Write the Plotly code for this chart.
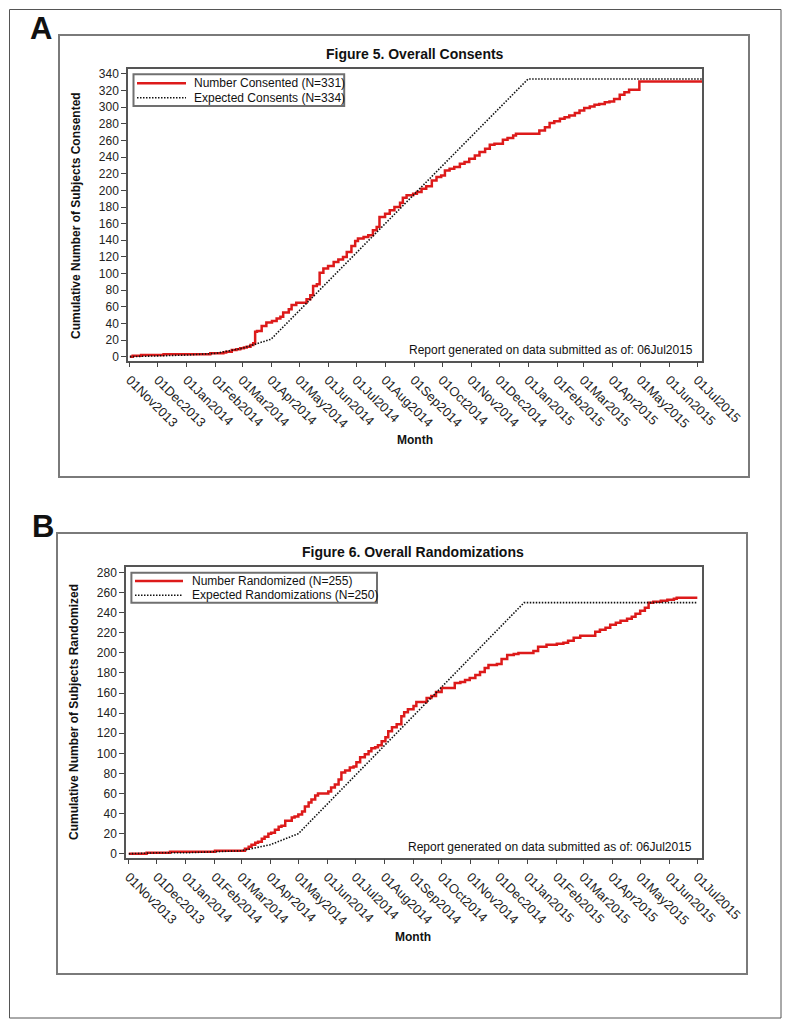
import pandas as pd
import plotly.graph_objects as go

# page is 791x1028; browser body keeps its default 8px margin, so the figure is
# sized to fill the window exactly and page coordinates are offset by 8px.
PAGE_W, PAGE_H = 791, 1028
OX, OY = 8, 8
FW, FH = PAGE_W - 2 * OX, PAGE_H - 2 * OY
BASE = pd.Timestamp("2013-11-01")
FONT = "Liberation Sans, Arial, sans-serif"

# ---------------- data (day offsets from 01Nov2013, cumulative counts) -------------
consent_days = [0, 3, 12, 36, 86, 100, 103, 109, 114, 118, 122, 125, 129, 132, 134,
                136, 141, 146, 152, 157, 161, 164, 170, 173, 178, 189, 193, 196, 200,
                203, 207, 212, 218, 223, 228, 232, 237, 241, 244, 250, 255, 260, 264,
                267, 273, 278, 283, 289, 292, 296, 303, 307, 312, 317, 323, 328, 333,
                337, 342, 347, 353, 358, 363, 369, 374, 380, 385, 390, 399, 404, 410,
                413, 438, 444, 449, 454, 460, 465, 470, 476, 481, 486, 492, 497, 502,
                508, 513, 518, 524, 529, 534, 545, 612]
consent_counts = [0, 1, 2, 3, 4, 5, 6, 8, 9, 10, 11, 12, 14, 16, 30,
                  31, 37, 41, 43, 46, 48, 53, 57, 62, 65, 69, 74, 85, 87,
                  101, 106, 109, 114, 117, 120, 126, 133, 139, 142, 144, 146, 152, 156,
                  168, 172, 176, 180, 185, 191, 194, 196, 198, 202, 205, 212, 216, 218,
                  224, 226, 228, 232, 234, 238, 242, 246, 250, 255, 256, 261, 263, 266,
                  268, 272, 276, 281, 283, 286, 288, 290, 293, 296, 299, 301, 303, 304,
                  306, 307, 310, 315, 318, 321, 331, 331]

exp_consent_days = [0, 30, 61, 92, 120, 151, 426, 612]
exp_consent_counts = [0, 1, 2, 4, 10, 21, 334, 334]

rand_days = [0, 19, 44, 92, 124, 128, 131, 135, 138, 142, 145, 149, 152, 156, 160,
             163, 167, 174, 177, 181, 185, 188, 192, 195, 199, 202, 213, 216, 220,
             224, 227, 231, 236, 240, 243, 247, 252, 256, 259, 263, 266, 270, 274,
             277, 281, 286, 291, 294, 298, 304, 307, 318, 323, 328, 334, 348, 354,
             359, 364, 370, 375, 380, 384, 393, 398, 404, 411, 416, 432, 437, 446,
             457, 464, 469, 475, 482, 498, 503, 509, 514, 520, 525, 532, 537, 541,
             546, 551, 555, 560, 568, 575, 582, 585, 607]
rand_counts = [0, 1, 2, 3, 5, 7, 9, 11, 12, 15, 17, 20, 21, 24, 27,
               28, 33, 36, 37, 39, 42, 47, 51, 54, 58, 60, 62, 66, 69,
               74, 81, 83, 86, 87, 91, 96, 99, 102, 105, 106, 108, 112, 116,
               122, 126, 129, 137, 141, 144, 147, 151, 155, 157, 161, 165, 170, 171,
               173, 175, 178, 181, 185, 188, 189, 194, 198, 199, 200, 202, 206, 208,
               209, 210, 212, 215, 217, 221, 223, 225, 228, 230, 232, 234, 236, 239,
               242, 245, 250, 251, 252, 253, 254, 255, 255]

exp_rand_days = [0, 30, 61, 92, 120, 151, 181, 422, 607]
exp_rand_counts = [0, 1, 1, 2, 3, 9, 20, 250, 250]

names_a = ["Number Consented (N=331)", "Expected Consents (N=334)"]
names_b = ["Number Randomized (N=255)", "Expected Randomizations (N=250)"]
titles = ["Figure 5. Overall Consents", "Figure 6. Overall Randomizations"]
ytitles = ["Cumulative Number of Subjects Consented",
           "Cumulative Number of Subjects Randomized"]
note = "Report generated on data submitted as of: 06Jul2015"


def to_dates(days):
    return BASE + pd.to_timedelta(days, unit="D")


def px(x):
    return (x - OX) / FW


def py(y):
    return 1 - (y - OY) / FH


RED = "#DD1A1A"
DOT = "1.5px,1.5px"
red_line = dict(color=RED, width=2.5)
dot_line = dict(color="#111111", width=1.6, dash=DOT)

fig = go.Figure()
fig.add_trace(go.Scatter(x=to_dates(consent_days), y=consent_counts, mode="lines",
                         line=dict(red_line, shape="hv"), name=names_a[0],
                         xaxis="x", yaxis="y"))
fig.add_trace(go.Scatter(x=to_dates(exp_consent_days), y=exp_consent_counts, mode="lines",
                         line=dot_line, name=names_a[1], xaxis="x", yaxis="y"))
fig.add_trace(go.Scatter(x=to_dates(rand_days), y=rand_counts, mode="lines",
                         line=dict(red_line, shape="hv"), name=names_b[0],
                         xaxis="x2", yaxis="y2"))
fig.add_trace(go.Scatter(x=to_dates(exp_rand_days), y=exp_rand_counts, mode="lines",
                         line=dot_line, name=names_b[1], xaxis="x2", yaxis="y2"))

axis_common = dict(showline=True, mirror=True, linecolor="#555555", linewidth=1.5,
                   ticks="outside", ticklen=5, tickwidth=1, tickcolor="#444444",
                   showgrid=False, zeroline=False, automargin=False,
                   tickfont=dict(family=FONT, size=12, color="#222222"))
xcommon = dict(axis_common, type="date", tickformat="%d%b%Y", dtick="M1",
               tick0="2013-11-01", tickangle=45,
               tickfont=dict(family=FONT, size=13, color="#222222"))

fig.update_layout(
    width=FW, height=FH, autosize=False, margin=dict(l=0, r=0, t=0, b=0),
    paper_bgcolor="white", plot_bgcolor="white",
    font=dict(family=FONT, size=12, color="#222222"),
    showlegend=False,
    xaxis=dict(xcommon, domain=[px(128), px(702)], anchor="y",
               range=["2013-10-30", "2015-07-06"]),
    yaxis=dict(axis_common, domain=[py(360.5), py(69.3)], anchor="x",
               range=[-4.6, 345.6], dtick=20, tick0=0),
    xaxis2=dict(xcommon, domain=[px(126), px(702)], anchor="y2",
                range=["2013-10-29", "2015-07-06"]),
    yaxis2=dict(axis_common, domain=[py(857.5), py(566.7)], anchor="x2",
                range=[-3.7, 285.8], dtick=20, tick0=0),
)


def prect(x0, y0, x1, y1, color, width):
    return dict(type="rect", xref="paper", yref="paper", x0=px(x0), x1=px(x1),
                y0=py(y1), y1=py(y0), line=dict(color=color, width=width),
                fillcolor="rgba(0,0,0,0)")


def pline(x0, x1, y, line):
    return dict(type="line", xref="paper", yref="paper", x0=px(x0), x1=px(x1),
                y0=py(y), y1=py(y), line=line)


shapes = [
    prect(9.5, 9.5, 781, 1018, "#555555", 1),
    prect(59, 35, 749, 477, "#7a7a7a", 2),
    prect(57, 533, 747, 974, "#7a7a7a", 2),
    # legend boxes and keys
    dict(prect(133.5, 74.3, 344.2, 106, "#707070", 2), fillcolor="white"),
    pline(137, 186, 83.3, red_line),
    pline(137, 186, 97.7, dot_line),
    dict(prect(131.4, 572.7, 377, 602.7, "#707070", 2), fillcolor="white"),
    pline(135, 183, 581, red_line),
    pline(135, 183, 595.3, dot_line),
]
fig.update_layout(shapes=shapes)

ann = []


def add_text(text, x, y, size=12, bold=False, angle=0, xanchor="center"):
    ann.append(dict(text=f"<b>{text}</b>" if bold else text, x=px(x), y=py(y),
                    xref="paper", yref="paper", showarrow=False, textangle=angle,
                    xanchor=xanchor, yanchor="middle",
                    font=dict(family=FONT, size=size, color="#111111")))


add_text("A", 41, 29, size=31, bold=True)
add_text("B", 42.5, 526, size=31, bold=True)
add_text(titles[0], 415, 54, size=14, bold=True)
add_text(titles[1], 413, 552, size=14, bold=True)
add_text(ytitles[0], 76, 216, size=12, bold=True, angle=-90)
add_text(ytitles[1], 74, 712, size=12, bold=True, angle=-90)
add_text("Month", 415, 440, size=12, bold=True)
add_text("Month", 413, 937, size=12, bold=True)
add_text(note, 695, 350, size=12, xanchor="right")
add_text(note, 694, 847, size=12, xanchor="right")
add_text(names_a[0], 191.6, 83.3, size=12, xanchor="left")
add_text(names_a[1], 191.6, 97.7, size=12, xanchor="left")
add_text(names_b[0], 189.5, 581, size=12, xanchor="left")
add_text(names_b[1], 189.5, 595.3, size=12, xanchor="left")
fig.update_layout(annotations=ann)

fig.write_html("out.html", config={"displayModeBar": False, "responsive": False})
